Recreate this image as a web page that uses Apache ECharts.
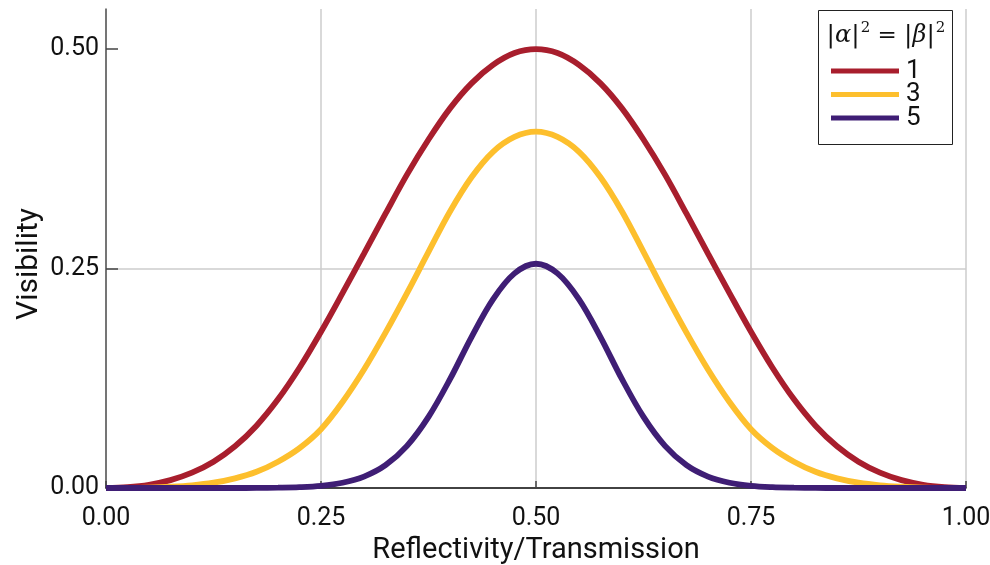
<!DOCTYPE html>
<html>
<head>
<meta charset="utf-8">
<script src="https://cdn.jsdelivr.net/npm/echarts@6.0.0/dist/echarts.min.js"></script>
<style>
  html, body { margin: 0; padding: 0; background: #fff; }
  #chart { width: 990px; height: 565px; }
</style>
</head>
<body>
<div id="chart"></div>
<script>
// reflectivity samples (x axis)
const reflectivity = [
  0, 0.025, 0.05, 0.075, 0.1, 0.125, 0.15, 0.175, 0.2, 0.225,
  0.25, 0.275, 0.3, 0.325, 0.35, 0.375, 0.4, 0.425, 0.45, 0.475,
  0.5, 0.525, 0.55, 0.575, 0.6, 0.625, 0.65, 0.675, 0.7, 0.725,
  0.75, 0.775, 0.8, 0.825, 0.85, 0.875, 0.9, 0.925, 0.95, 0.975, 1
]
// visibility, |a|^2 = |b|^2 = 1, 3, 5
const vis1 = [
  0, 0.001, 0.0037, 0.009, 0.0175, 0.03, 0.0475, 0.071, 0.101, 0.137,
  0.178, 0.222, 0.267, 0.3125, 0.357, 0.397, 0.4325, 0.461, 0.482, 0.4955,
  0.5, 0.4955, 0.482, 0.461, 0.4325, 0.397, 0.357, 0.3125, 0.267, 0.222,
  0.178, 0.137, 0.101, 0.071, 0.0475, 0.03, 0.0175, 0.009, 0.0037, 0.001, 0
]
const vis3 = [
  0, 0.0001, 0.0005, 0.0014, 0.003, 0.006, 0.011, 0.0185, 0.03, 0.0455,
  0.067, 0.098, 0.135, 0.177, 0.222, 0.269, 0.315, 0.354, 0.383, 0.4,
  0.406, 0.4, 0.383, 0.354, 0.315, 0.269, 0.222, 0.177, 0.135, 0.098,
  0.067, 0.0455, 0.03, 0.0185, 0.011, 0.006, 0.003, 0.0014, 0.0005, 0.0001, 0
]
const vis5 = [
  0, 0, 0, 0, 0, 0, 0, 0.0001, 0.0004, 0.001,
  0.0025, 0.006, 0.013, 0.026, 0.048, 0.081, 0.124, 0.172, 0.215, 0.2445,
  0.2555, 0.2445, 0.215, 0.172, 0.124, 0.081, 0.048, 0.026, 0.013, 0.006,
  0.0025, 0.001, 0.0004, 0.0001, 0, 0, 0, 0, 0, 0, 0
]
const seriesNames = ['1', '3', '5']
const seriesColors = ['#a81e2d', '#fdbf2d', '#3f1e75']
const yTicks = [0, 0.25, 0.5]

const font = 'Roboto, "Noto Sans", sans-serif'
const serif = '"DejaVu Serif", "Liberation Serif", serif'
const chart = echarts.init(document.getElementById('chart'))

function pairs(ys) {
  return reflectivity.map((x, i) => [x, ys[i]])
}

const option = {
  animation: false,
  color: seriesColors,
  grid: {
    left: 106,
    right: 24,
    top: 9,
    bottom: 77,
    outerBoundsMode: 'none'
  },
  legend: {
    orient: 'vertical',
    left: 831,
    top: 58,
    z: 20,
    icon: 'rect',
    itemWidth: 68,
    itemHeight: 5,
    itemGap: -2.5,
    padding: 0,
    data: seriesNames,
    textStyle: {
      fontFamily: font,
      fontSize: 26,
      color: '#111',
      lineHeight: 22,
      padding: [0, 0, 0, 2]
    }
  },
  xAxis: {
    type: 'value',
    min: 0,
    max: 1,
    interval: 0.25,
    name: 'Reflectivity/Transmission',
    nameLocation: 'middle',
    nameGap: 46,
    nameTextStyle: { fontFamily: font, fontSize: 29, color: '#111' },
    axisLine: { show: true, lineStyle: { color: '#111', width: 1.5 } },
    axisTick: { show: true, inside: true, length: 7, lineStyle: { color: '#444', width: 1.5 } },
    axisLabel: {
      fontFamily: font,
      fontSize: 25,
      color: '#111',
      margin: 18,
      formatter: v => v.toFixed(2)
    },
    splitLine: { show: true, lineStyle: { color: '#cccccc', width: 1.5 } }
  },
  yAxis: {
    type: 'value',
    min: 0,
    max: 0.5457,
    interval: 0.25,
    axisLine: { show: true, lineStyle: { color: '#555', width: 1.5 } },
    axisTick: {
      show: true, inside: true, length: 12,
      customValues: yTicks,
      lineStyle: { color: '#444', width: 1.5 }
    },
    axisLabel: {
      fontFamily: font,
      fontSize: 25,
      color: '#111',
      margin: 7,
      customValues: yTicks,
      formatter: v => v.toFixed(2)
    },
    splitLine: { show: true, showMaxLine: false, lineStyle: { color: '#cccccc', width: 1.5 } }
  },
  graphic: [
    {
      type: 'text',
      x: 29,
      y: 264,
      rotation: Math.PI / 2,
      style: {
        text: 'Visibility',
        fontFamily: font,
        fontSize: 30,
        fill: '#111',
        align: 'center',
        verticalAlign: 'middle'
      }
    },
    {
      type: 'rect',
      left: 818,
      top: 10,
      z: 15,
      shape: { width: 134, height: 134 },
      style: { fill: '#fff', stroke: '#222', lineWidth: 1 }
    },
    {
      type: 'text',
      x: 886,
      y: 34,
      z: 16,
      style: {
        text: '{b||}{i|α}{b||}{s|2}{t| = }{b||}{i|β}{b||}{s|2}',
        align: 'center',
        verticalAlign: 'middle',
        fill: '#111',
        rich: {
          b: { fontFamily: serif, fontSize: 25, fill: '#111', verticalAlign: 'bottom' },
          t: { fontFamily: serif, fontSize: 23, fill: '#111', verticalAlign: 'bottom' },
          i: { fontFamily: serif, fontStyle: 'italic', fontSize: 24, fill: '#111', verticalAlign: 'bottom' },
          s: { fontFamily: serif, fontSize: 15, fill: '#111', verticalAlign: 'bottom', padding: [0, 0, 12, 1] }
        }
      }
    }
  ],
  series: [vis1, vis3, vis5].map((ys, i) => ({
    name: seriesNames[i],
    type: 'line',
    data: pairs(ys),
    smooth: 0.35,
    showSymbol: false,
    clip: false,
    lineStyle: { width: 5.8, color: seriesColors[i] },
    z: 10 + i
  }))
}

chart.setOption(option)
</script>
</body>
</html>
